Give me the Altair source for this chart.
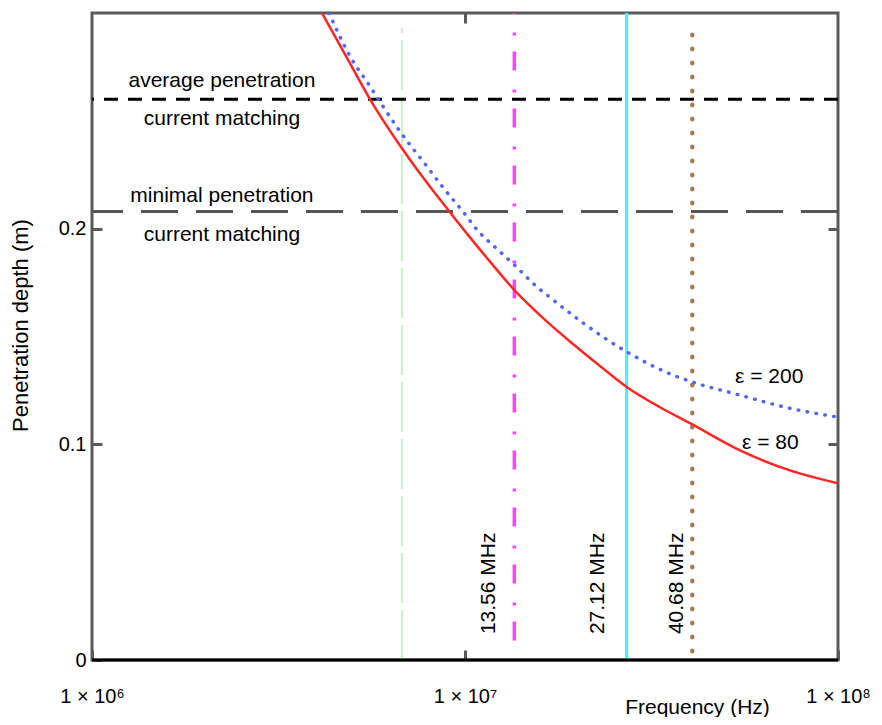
import altair as alt
import pandas as pd

# ---- data ----
# eps = 80 curve (red, solid)
e80_freq_mhz = [4.137, 4.797, 5.564, 6.694, 7.576, 8.570, 10.12, 11.67, 13.79, 16.39,
                19.48, 23.01, 27.19, 33.32, 40.11, 54.61, 74.33, 100.0]
e80_depth = [0.300, 0.2800, 0.2600, 0.2386, 0.2256, 0.2135, 0.1977, 0.1847, 0.1702, 0.1577,
             0.1465, 0.1363, 0.1265, 0.1172, 0.1098, 0.0972, 0.0879, 0.0819]
# eps = 200 curve (blue, dotted)
e200_freq_mhz = [4.319, 4.916, 5.564, 6.028, 6.694, 7.910, 8.730, 9.876, 10.77, 12.26,
                 13.37, 15.60, 17.22, 20.72, 27.19, 36.11, 40.86, 54.61, 74.33, 100.0]
e200_depth = [0.300, 0.2800, 0.2660, 0.2567, 0.2451, 0.2288, 0.2191, 0.2079, 0.1995, 0.1902,
              0.1842, 0.1730, 0.1670, 0.1563, 0.1428, 0.1321, 0.1288, 0.1228, 0.1167, 0.1126]

# ISM frequency markers
ism_freq_mhz = [6.78, 13.56, 27.12, 40.68]
ism_low = [0.0, 0.009, 0.0, 0.004]
ism_high = [0.293, 0.300, 0.300, 0.295]

# horizontal thresholds
avg_depth = 0.260
min_depth = 0.208

# annotation texts
ann_text = ["average penetration", "current matching", "minimal penetration", "current matching"]
ann_freq_mhz = [2.23, 2.23, 2.23, 2.23]
ann_depth = [0.2684, 0.2507, 0.2153, 0.1972]

eps_text = ["ε = 200", "ε = 80"]
eps_freq_mhz = [52.96, 55.3]
eps_depth = [0.1312, 0.1005]

mhz_text = ["13.56 MHz", "27.12 MHz", "40.68 MHz"]
mhz_freq_mhz = [11.6, 22.7, 37.0]
mhz_depth = [0.012, 0.012, 0.012]

x_ticks = [1e6, 1e7, 1e8]
x_tick_labels = ["1 × 10⁶", "1 × 10⁷", "1 × 10⁸"]
y_ticks = [0, 0.1, 0.2]
y_tick_labels = ["0", "0.1", "0.2"]

FONT = "Liberation Sans"

# ---- tables ----
df80 = pd.DataFrame({"f": [v * 1e6 for v in e80_freq_mhz], "d": e80_depth})
df200 = pd.DataFrame({"f": [v * 1e6 for v in e200_freq_mhz], "d": e200_depth})
dfism = pd.DataFrame({"f": [v * 1e6 for v in ism_freq_mhz], "d": ism_low, "d2": ism_high})
dfann = pd.DataFrame({"f": [v * 1e6 for v in ann_freq_mhz], "d": ann_depth, "t": ann_text})
dfeps = pd.DataFrame({"f": [v * 1e6 for v in eps_freq_mhz], "d": eps_depth, "t": eps_text})
dfmhz = pd.DataFrame({"f": [v * 1e6 for v in mhz_freq_mhz], "d": mhz_depth, "t": mhz_text})

xscale = alt.Scale(type="log", domain=[1e6, 1e8], nice=False)
yscale = alt.Scale(domain=[0, 0.3], nice=False, zero=False)

xlab_expr = " : ".join(
    f"datum.value > {x_ticks[i] * 0.5} ? '{x_tick_labels[i]}'" for i in range(len(x_ticks) - 1, 0, -1)
) + f" : '{x_tick_labels[0]}'"
ylab_expr = " : ".join(
    f"datum.value > {y_ticks[i] - 0.05} ? '{y_tick_labels[i]}'" for i in range(len(y_ticks) - 1, 0, -1)
) + f" : '{y_tick_labels[0]}'"

X_main = alt.X("f:Q", scale=xscale, axis=alt.Axis(
    orient="bottom", values=x_ticks, labelExpr=xlab_expr, offset=-10, tickSize=10,
    labelPadding=26, labelBaseline="top", labelFlush=False, labelOverlap=False, labelBound=False,
    title="Frequency (Hz)", titleX=605, titleY=63, titleAlign="center",
    titleBaseline="alphabetic", titleFontSize=21))
Y_main = alt.Y("d:Q", scale=yscale, axis=alt.Axis(
    orient="left", values=y_ticks, labelExpr=ylab_expr, offset=-10, tickSize=10,
    labelPadding=6, labelOverlap=False, labelBound=False,
    title="Penetration depth (m)", titleX=-82, titleY=312, titleAngle=270,
    titleAlign="center", titleBaseline="middle", titleFontSize=22))
X_n = alt.X("f:Q", scale=xscale, axis=None)
Y_n = alt.Y("d:Q", scale=yscale, axis=None)

red = alt.Chart(df80).mark_line(color="#ff2626", strokeWidth=2.5, clip=True,
                                interpolate="monotone").encode(x=X_main, y=Y_main)
blue = alt.Chart(df200).mark_line(color="#5266ee", strokeWidth=3.5, clip=True,
                                  strokeDash=[0.5, 8.5], strokeCap="round",
                                  interpolate="monotone").encode(x=X_n, y=Y_n)

frame_axes = alt.Chart(df80).mark_point(opacity=0).encode(
    x=alt.X("f:Q", scale=xscale, axis=alt.Axis(orient="top", values=[1e7], labels=False,
                                               offset=-10, tickSize=10, title=None)),
    y=alt.Y("d:Q", scale=yscale, axis=alt.Axis(orient="right", values=[0.1, 0.2], labels=False,
                                               offset=-10, tickSize=10, title=None)))

ism_styles = [
    dict(color="#b4f0b4", strokeWidth=1.5, strokeDash=[50, 7]),
    dict(color="#ff44ff", strokeWidth=3.5, strokeDash=[19, 16, 3, 19]),
    dict(color="#3ef4f4", strokeWidth=3),
    dict(color="#a67c52", strokeWidth=4.5, strokeDash=[0.5, 13.5], strokeCap="round"),
]
ism_layers = []
for i, st in enumerate(ism_styles):
    ism_layers.append(
        alt.Chart(dfism.iloc[[i]]).mark_rule(clip=True, **st).encode(
            x=X_n, y=Y_n, y2="d2:Q"))

avg_rule = alt.Chart(pd.DataFrame({"d": [avg_depth]})).mark_rule(
    color="black", strokeWidth=3, strokeDash=[14, 10]).encode(y=Y_n)
min_rule = alt.Chart(pd.DataFrame({"d": [min_depth]})).mark_rule(
    color="#555555", strokeWidth=3, strokeDash=[37, 18]).encode(y=Y_n)
bottom_rule = alt.Chart(pd.DataFrame({"d": [0.0]})).mark_rule(
    color="black", strokeWidth=3).encode(y=Y_n)

ann = alt.Chart(dfann).mark_text(font=FONT, fontSize=21, align="center", baseline="middle",
                                 color="black").encode(x=X_n, y=Y_n, text="t:N")
eps = alt.Chart(dfeps).mark_text(font=FONT, fontSize=21, align="left", baseline="middle",
                                 color="black").encode(x=X_n, y=Y_n, text="t:N")
mhz = alt.Chart(dfmhz).mark_text(font=FONT, fontSize=21, align="left", baseline="middle",
                                 angle=270, color="black").encode(x=X_n, y=Y_n, text="t:N")

chart = alt.layer(
    *ism_layers, avg_rule, min_rule, blue, red, bottom_rule, ann, eps, mhz, frame_axes
).resolve_axis(x="independent", y="independent").properties(
    width=746, height=647,
    autosize=alt.AutoSizeParams(type="none"),
    padding={"left": 84, "top": 5, "right": 34, "bottom": 57},
).configure_view(
    stroke="#5a5a5a", strokeWidth=3
).configure_axis(
    grid=False, domain=False, tickColor="#5a5a5a", tickWidth=3,
    labelFont=FONT, labelFontSize=20, labelColor="black",
    titleFont=FONT, titleColor="black", titleFontWeight="normal",
)

chart.save("out.html", embed_options={"renderer": "svg", "actions": False})
